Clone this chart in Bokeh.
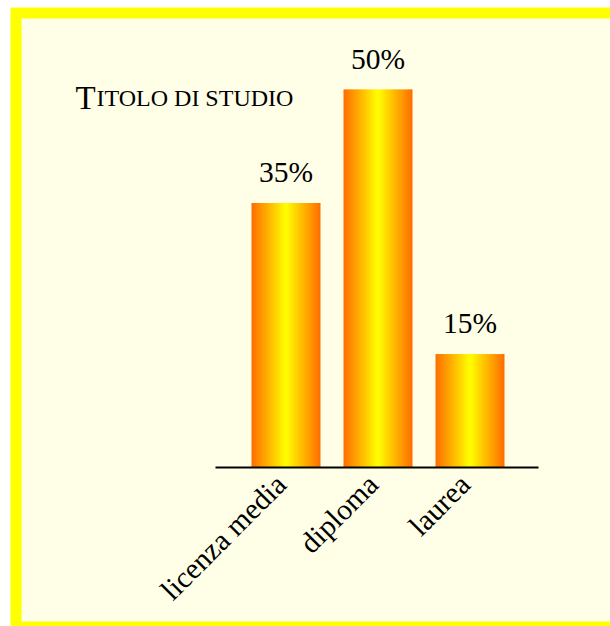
import math

from bokeh.core.properties import value
from bokeh.embed import file_html
from bokeh.models import Range1d
from bokeh.plotting import figure
from bokeh.resources import INLINE

# --- data -----------------------------------------------------------------
categories = ["licenza media", "diploma", "laurea"]
shares = [35, 50, 15]
share_labels = ["35%", "50%", "15%"]
title_first = "T"
title_rest = "ITOLO DI STUDIO"

# --- page geometry (pixels from the top-left corner of the canvas) --------
W, H = 610, 626
AXIS_ROW = 467        # row of the zero line
PEAK_ROW = 89         # row reached by the largest share
FIRST_CENTER = 285.5  # column of the first bar's centre
STEP = 92             # distance between bar centres
BAR_WIDTH = 0.75      # in category units
FONT = "Liberation Serif"

BG = "#FFFFE8"
FRAME = "#FFFF00"

# value scale: pixels per percentage point, then the full-canvas data ranges
px_per_unit = (AXIS_ROW - PEAK_ROW) / max(shares)
y_start = -(H - AXIS_ROW) / px_per_unit
y_end = AXIS_ROW / px_per_unit
x_start = -FIRST_CENTER / STEP
x_end = (W - FIRST_CENTER) / STEP

p = figure(
    width=W, height=H,
    x_range=Range1d(x_start, x_end),
    y_range=Range1d(y_start, y_end),
    x_axis_location=None, y_axis_location=None,
    toolbar_location=None, output_backend="svg",
    min_border=0, outline_line_color=None,
    background_fill_color="white", border_fill_color="white",
)
p.grid.visible = False
p.extra_x_ranges = {"px": Range1d(0, W)}
p.extra_y_ranges = {"px": Range1d(H, 0)}

# yellow frame and pale panel
p.quad(left=[10], right=[W + 20], top=[7], bottom=[H + 20],
       fill_color=FRAME, line_color=None, x_range_name="px", y_range_name="px")
p.quad(left=[21], right=[W + 20], top=[18], bottom=[621],
       fill_color=BG, line_color=None, x_range_name="px", y_range_name="px")

# bars: each one is filled with thin vertical strips, orange at the edges
# and yellow in the middle
EDGE = (255, 108, 0)
MID = (255, 255, 0)
N_STRIPS = 46
lefts, rights, tops, colors = [], [], [], []
for i, v in enumerate(shares):
    x0 = i - BAR_WIDTH / 2
    dx = BAR_WIDTH / N_STRIPS
    for k in range(N_STRIPS):
        t = abs((k + 0.5) / N_STRIPS - 0.5) * 2
        r = round(MID[0] + (EDGE[0] - MID[0]) * t)
        g = round(MID[1] + (EDGE[1] - MID[1]) * t)
        b = round(MID[2] + (EDGE[2] - MID[2]) * t)
        lefts.append(x0 + k * dx)
        rights.append(min(x0 + (k + 1.6) * dx, i + BAR_WIDTH / 2))
        tops.append(v)
        colors.append(f"#{r:02x}{g:02x}{b:02x}")
p.quad(left=lefts, right=rights, top=tops, bottom=[0] * len(tops),
       fill_color=colors, line_color=None)

# zero line
p.segment(x0=[215], x1=[538], y0=[0], y1=[0], line_color="black",
          line_width=2, x_range_name="px")

idx = list(range(len(categories)))

# value labels above the bars
p.text(x=idx, y=shares, text=share_labels, text_align="center",
       text_baseline="alphabetic", y_offset=-31,
       text_font=value(FONT), text_font_size="29.5px", text_color="black")

# category labels, rotated
p.text(x=idx, y=[0] * len(idx), text=categories, angle=math.pi / 4,
       text_align="right", text_baseline="alphabetic", x_offset=-5, y_offset=12,
       text_font=value(FONT), text_font_size="29.5px", text_color="black")

# small-caps title
p.text(x=[75], y=[97], text=[title_first], text_align="left",
       text_baseline="alphabetic", text_font=value(FONT),
       text_font_size="33px", text_color="black",
       x_range_name="px", y_range_name="px")
p.text(x=[96], y=[97], text=[title_rest], text_align="left",
       text_baseline="alphabetic", text_font=value(FONT),
       text_font_size="24px", text_color="black",
       x_range_name="px", y_range_name="px")

open("out.html", "w").write(file_html(p, INLINE))
